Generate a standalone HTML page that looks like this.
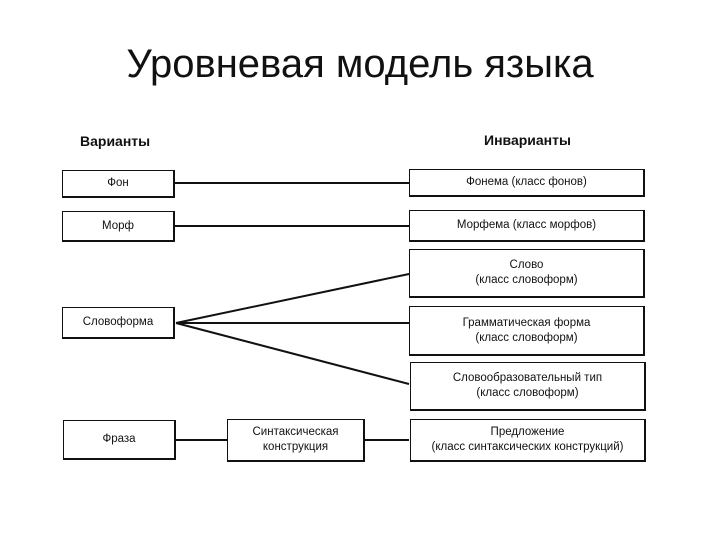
<!DOCTYPE html>
<html><head><meta charset="utf-8"><style>
body{margin:0;width:720px;height:540px;background:#fff;position:relative;overflow:hidden;font-family:"Liberation Sans",sans-serif}
.t{position:absolute;left:0;width:720px;top:42px;text-align:center;font-size:40px;color:#111}
.h{position:absolute;font-weight:bold;font-size:14px;color:#111}
.b{position:absolute;box-sizing:border-box;border:1.5px solid #111;border-right-width:2.5px;border-bottom-width:2.5px;display:flex;align-items:center;justify-content:center;text-align:center;font-size:11.5px;line-height:15px;color:#111}
</style></head><body>
<div class="t">Уровневая модель языка</div>
<div class="h" style="left:80px;top:133px">Варианты</div>
<div class="h" style="left:484px;top:132px">Инварианты</div>
<svg style="position:absolute;left:0;top:0" width="720" height="540">
<g stroke="#111" stroke-width="2">
<line x1="174" y1="183" x2="409" y2="183"/>
<line x1="174" y1="226" x2="409" y2="226"/>
<line x1="176" y1="323" x2="409" y2="274"/>
<line x1="176" y1="323" x2="409" y2="323"/>
<line x1="176" y1="323" x2="409" y2="384"/>
<line x1="174" y1="440" x2="227" y2="440"/>
<line x1="364" y1="440" x2="409" y2="440"/>
</g></svg>
<div class="b" style="left:62px;top:170px;width:113px;height:28px">Фон</div>
<div class="b" style="left:62px;top:211px;width:113px;height:31px">Морф</div>
<div class="b" style="left:62px;top:307px;width:113px;height:32px">Словоформа</div>
<div class="b" style="left:63px;top:420px;width:113px;height:40px">Фраза</div>
<div class="b" style="left:227px;top:419px;width:138px;height:43px">Синтаксическая<br>конструкция</div>
<div class="b" style="left:409px;top:169px;width:236px;height:28px">Фонема (класс фонов)</div>
<div class="b" style="left:409px;top:210px;width:236px;height:32px">Морфема (класс морфов)</div>
<div class="b" style="left:409px;top:249px;width:236px;height:49px">Слово<br>(класс словоформ)</div>
<div class="b" style="left:409px;top:306px;width:236px;height:50px">Грамматическая форма<br>(класс словоформ)</div>
<div class="b" style="left:410px;top:362px;width:236px;height:49px">Словообразовательный тип<br>(класс словоформ)</div>
<div class="b" style="left:410px;top:419px;width:236px;height:43px">Предложение<br>(класс синтаксических конструкций)</div>
</body></html>
